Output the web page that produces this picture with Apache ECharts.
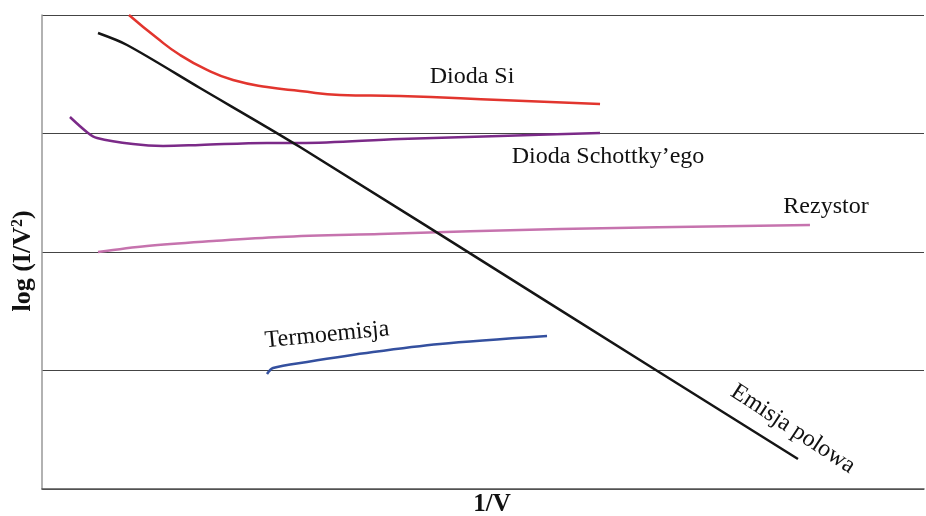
<!DOCTYPE html>
<html>
<head>
<meta charset="utf-8">
<script src="https://cdn.jsdelivr.net/npm/echarts@6/dist/echarts.min.js"></script>
<style>
  html, body { margin: 0; padding: 0; background: #fff; }
  #chart { width: 926px; height: 516px; }
</style>
</head>
<body>
<div id="chart"></div>
<script>
// Schematic log(I/V^2) vs 1/V curves (arbitrary units, x: 0-100, y: 0-4)
const diodaSiX = [9.86, 13.04, 15.65, 18.71, 21.66, 25.51, 29.25, 33.79, 40.59, 51.93, 63.27];
const diodaSiY = [4.0, 3.805, 3.662, 3.536, 3.451, 3.392, 3.359, 3.325, 3.316, 3.283, 3.249];

const schottkyX = [3.17, 5.22, 6.24, 10.32, 13.72, 17.91, 25.51, 29.25, 40.59, 51.93, 63.27];
const schottkyY = [3.139, 3.004, 2.962, 2.911, 2.895, 2.903, 2.920, 2.920, 2.954, 2.979, 3.004];

const rezystorX = [6.35, 11.9, 19.39, 26.98, 38.32, 58.73, 87.07];
const rezystorY = [2.0, 2.051, 2.093, 2.127, 2.152, 2.194, 2.228];

const termoX = [25.51, 26.19, 30.05, 37.53, 45.12, 57.26];
const termoY = [0.970, 1.021, 1.072, 1.156, 1.224, 1.291];

const polowaX = [6.35, 9.64, 17.91, 29.25, 57.6, 85.71];
const polowaY = [3.848, 3.747, 3.384, 2.886, 1.564, 0.253];

const curveNames = ['Dioda Si', 'Dioda Schottky\u2019ego', 'Rezystor', 'Termoemisja', 'Emisja polowa'];

const pairs = (xs, ys) => xs.map((x, i) => [x, ys[i]]);

const serif = '"Liberation Serif", "Times New Roman", serif';

const chart = echarts.init(document.getElementById('chart'));

function lineSeries(name, xs, ys, color, smooth) {
  return {
    name: name,
    type: 'line',
    data: pairs(xs, ys),
    smooth: smooth,
    showSymbol: false,
    lineStyle: { color: color, width: 2.5 },
    z: 3
  };
}

const textStyle = { fontFamily: serif, fontSize: 24, fill: '#111' };

chart.setOption({
  animation: false,
  backgroundColor: '#fff',
  grid: { left: 42, right: 2, top: 15, bottom: 27, containLabel: false, outerBoundsMode: 'none' },
  xAxis: {
    type: 'value',
    min: 0,
    max: 100,
    name: '1/V',
    nameLocation: 'middle',
    nameGap: 3,
    nameTextStyle: {
      fontFamily: serif, fontSize: 25, fontWeight: 'bold', color: '#111',
      padding: [0, 0, 0, 18]
    },
    axisLine: { lineStyle: { color: '#555', width: 1.5 } },
    axisTick: { show: false },
    axisLabel: { show: false },
    splitLine: { show: false }
  },
  yAxis: {
    type: 'value',
    min: 0,
    max: 4,
    interval: 1,
    name: '{t|log (I/V}{s|2}{t|)}',
    nameLocation: 'middle',
    nameGap: 6,
    nameRotate: 90,
    nameTextStyle: {
      padding: [0, 18, 0, 0],
      rich: {
        t: { fontFamily: serif, fontSize: 26, fontWeight: 'bold', color: '#111' },
        s: { fontFamily: serif, fontSize: 16, fontWeight: 'bold', color: '#111', verticalAlign: 'top', padding: [0, 0, 10, 0] }
      }
    },
    axisLine: { show: true, lineStyle: { color: '#999', width: 1.5 } },
    axisTick: { show: false },
    axisLabel: { show: false },
    splitLine: { show: true, lineStyle: { color: '#444', width: 1.2 } }
  },
  series: [
    lineSeries(curveNames[0], diodaSiX, diodaSiY, '#e2352e', 0.5),
    lineSeries(curveNames[1], schottkyX, schottkyY, '#7b2a88', 0.35),
    lineSeries(curveNames[2], rezystorX, rezystorY, '#c673ae', 0.35),
    lineSeries(curveNames[3], termoX, termoY, '#34509f', 0.3),
    lineSeries(curveNames[4], polowaX, polowaY, '#151515', 0.3)
  ],
  graphic: [
    { type: 'text', x: 472, y: 77, style: Object.assign({ text: curveNames[0], align: 'center', verticalAlign: 'middle' }, textStyle) },
    { type: 'text', x: 608, y: 157, style: Object.assign({ text: curveNames[1], align: 'center', verticalAlign: 'middle' }, textStyle) },
    { type: 'text', x: 826, y: 207, style: Object.assign({ text: curveNames[2], align: 'center', verticalAlign: 'middle' }, textStyle) },
    { type: 'text', x: 327, y: 335, rotation: 0.097, style: Object.assign({ text: curveNames[3], align: 'center', verticalAlign: 'middle' }, textStyle) },
    { type: 'text', x: 793, y: 429, rotation: -0.58, style: Object.assign({ text: curveNames[4], align: 'center', verticalAlign: 'middle' }, textStyle) }
  ]
});
</script>
</body>
</html>
